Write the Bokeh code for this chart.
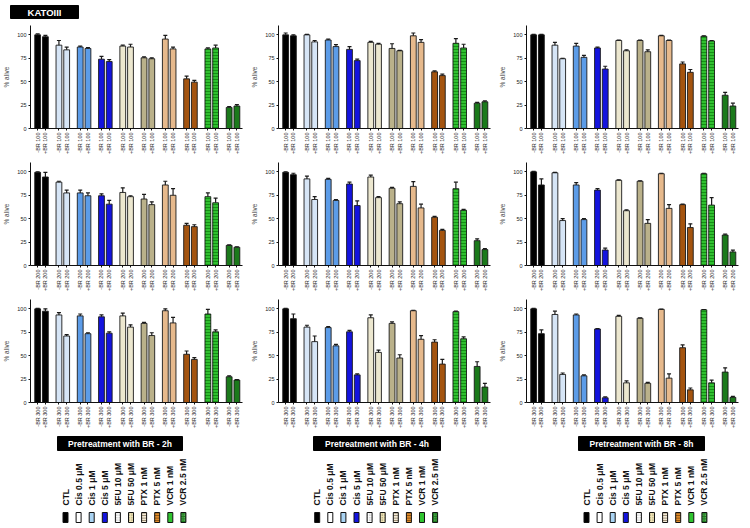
import math
from bokeh.plotting import figure
from bokeh.models import ColumnDataSource, Range1d, FixedTicker, Whisker, TeeHead
from bokeh.layouts import column, row
from bokeh.embed import file_html
from bokeh.resources import INLINE
from bokeh.core.properties import value

# ---------------- data ----------------
categories = ["CTL", "Cis 0.5 \u03bcM", "Cis 1 \u03bcM", "Cis 5 \u03bcM", "5FU 10 \u03bcM",
              "5FU 50 \u03bcM", "PTX 1 nM", "PTX 5 nM", "VCR 1 nM", "VCR 2.5 nM"]
times = ["2h", "4h", "8h"]
doses = ["100", "200", "300"]

br100_2h_minus = [100, 89, 87, 74, 88, 75.5, 95.5, 53, 85, 22.5]
br100_2h_plus = [98, 84, 85.5, 71.5, 87, 74.5, 85, 49.5, 86, 24]
br100_2h_minus_err = [1, 5, 1, 3, 1, 1, 4, 3, 1, 1]
br100_2h_plus_err = [1.5, 3, 1, 2, 3, 1, 2, 2, 3, 1.5]

br100_4h_minus = [100, 100, 94.5, 84.5, 92, 85.5, 99, 60.5, 91, 27]
br100_4h_plus = [99, 92.5, 87.5, 72.5, 90, 83, 92, 56.5, 86, 28.5]
br100_4h_minus_err = [2, 0.5, 1, 3, 1, 5, 3, 1, 5, 1]
br100_4h_plus_err = [1, 1.5, 2, 1.5, 1, 0.5, 3, 1.5, 4, 1]

br100_8h_minus = [100, 89, 88, 86, 94, 94, 99, 69, 98.5, 35.5]
br100_8h_plus = [100, 74.5, 76, 63.5, 83, 82, 94, 60, 93.5, 24]
br100_8h_minus_err = [0.5, 3, 3, 1, 0.5, 0.5, 0.5, 2, 0.5, 3]
br100_8h_plus_err = [0.5, 0.5, 2, 3, 1, 2, 0.5, 3, 0.5, 3]

br200_2h_minus = [99.5, 89, 77.5, 74.5, 78, 71, 86, 43, 73.5, 21.5]
br200_2h_plus = [94.5, 77.5, 74.5, 65.5, 73.5, 65, 75, 41.5, 67, 19.5]
br200_2h_minus_err = [0.5, 1, 3, 2, 5, 5, 4, 2, 4, 0.5]
br200_2h_plus_err = [5, 3, 3, 4, 1, 3, 7, 2, 5, 0.5]

br200_4h_minus = [99.5, 92.5, 92, 87, 94.5, 82.5, 84.5, 51.5, 82, 26.5]
br200_4h_plus = [97, 70.5, 69.5, 64, 72.5, 66, 61.5, 37.5, 59, 17]
br200_4h_minus_err = [0.5, 3, 1, 2, 2, 1, 5, 1, 7, 2]
br200_4h_plus_err = [1.5, 3, 1, 5, 1, 2, 4, 1, 1, 1]

br200_8h_minus = [100, 99, 86, 80.5, 91, 90, 98, 65, 98, 32.5]
br200_8h_plus = [86, 48, 49, 16.5, 58.5, 45, 61, 40.5, 64.5, 14.5]
br200_8h_minus_err = [0.5, 0.5, 2.5, 1.5, 0.5, 0.5, 0.5, 0.5, 0.5, 1]
br200_8h_plus_err = [6.5, 2, 1, 2, 1, 4, 4, 4, 8, 2]

br300_2h_minus = [100, 93.5, 92.5, 91.5, 92.5, 84.5, 98, 51.5, 94.5, 27.5]
br300_2h_plus = [97.5, 71, 73.5, 74, 80.5, 71.5, 85, 46, 75.5, 24]
br300_2h_minus_err = [0.5, 2.5, 2, 2, 3, 1, 2, 3.5, 5, 1]
br300_2h_plus_err = [2.5, 1.5, 1, 1.5, 2.5, 3, 6, 2, 2, 0.5]

br300_4h_minus = [100, 80.5, 80, 75.5, 90.5, 84.5, 98, 64.5, 97, 38.5]
br300_4h_plus = [89.5, 65, 60.5, 29.5, 53.5, 47.5, 67.5, 41, 68, 16.5]
br300_4h_minus_err = [0.5, 2, 1, 1.5, 3, 1.5, 0.5, 2.5, 0.5, 5]
br300_4h_plus_err = [5, 6, 1.5, 1, 2.5, 3.5, 4, 5, 2, 4]

br300_8h_minus = [100, 94, 93.5, 78.5, 92, 90, 99.5, 58.5, 99, 32.5]
br300_8h_plus = [73.5, 30, 28.5, 5, 21, 20.5, 26, 13.5, 21, 5.5]
br300_8h_minus_err = [0.5, 3.5, 1, 0.3, 1, 0.3, 0.3, 3, 0.3, 4.5]
br300_8h_plus_err = [4, 1.5, 1, 1, 2, 1, 4.5, 2, 3, 1]

panels = {
    ("100", "2h"): (br100_2h_minus, br100_2h_plus, br100_2h_minus_err, br100_2h_plus_err),
    ("100", "4h"): (br100_4h_minus, br100_4h_plus, br100_4h_minus_err, br100_4h_plus_err),
    ("100", "8h"): (br100_8h_minus, br100_8h_plus, br100_8h_minus_err, br100_8h_plus_err),
    ("200", "2h"): (br200_2h_minus, br200_2h_plus, br200_2h_minus_err, br200_2h_plus_err),
    ("200", "4h"): (br200_4h_minus, br200_4h_plus, br200_4h_minus_err, br200_4h_plus_err),
    ("200", "8h"): (br200_8h_minus, br200_8h_plus, br200_8h_minus_err, br200_8h_plus_err),
    ("300", "2h"): (br300_2h_minus, br300_2h_plus, br300_2h_minus_err, br300_2h_plus_err),
    ("300", "4h"): (br300_4h_minus, br300_4h_plus, br300_4h_minus_err, br300_4h_plus_err),
    ("300", "8h"): (br300_8h_minus, br300_8h_plus, br300_8h_minus_err, br300_8h_plus_err),
}

# ---------------- styles ----------------
FONT = "Liberation Sans"
bar_colors = ["#000000", "#d6e5f6", "#5c9ce8", "#1414de", "#ece7cf",
              "#bab18a", "#e6b98c", "#a4540f", "#30c030", "#1b7a1b"]
bar_hatch = [" ", " ", " ", " ", " ", " ", " ", " ", "-", " "]
bar_hatch_color = ["#000000"] * 8 + ["#158f15", "#000000"]
leg_colors = ["#000000", "#ffffff", "#a9d3f2", "#1414de", "#ffffff",
              "#efe5b6", "#f2ead8", "#e08a2a", "#2fc42f", "#1b7a1b"]
leg_hatch = [" ", " ", " ", " ", ".", ".", "-", "-", " ", "."]
leg_hatch_color = ["#000000", "#000000", "#000000", "#000000", "#999999",
                   "#8a8060", "#8a7a60", "#7a4a10", "#ffffff", "#9be09b"]
OUT = "#1a1a1a"
PANEL_W = 248
PANEL_H = 137


def make_panel(dose, minus, plus, minus_err, plus_err):
    p = figure(width=PANEL_W, height=PANEL_H, x_range=Range1d(-3.7, 105.9), y_range=Range1d(0, 110),
               output_backend="svg", toolbar_location=None,
               min_border_left=25, min_border_right=6, min_border_top=5, min_border_bottom=28)
    xs, tops, uppers, fills, hatches, hcols, labels = [], [], [], [], [], [], {}
    for i in range(len(categories)):
        for j, (vals, errs, sign) in enumerate(((minus, minus_err, "-"), (plus, plus_err, "+"))):
            x = i * 11 + j * 4
            xs.append(x)
            tops.append(vals[i])
            uppers.append(vals[i] + errs[i])
            fills.append(bar_colors[i])
            hatches.append(bar_hatch[i])
            hcols.append(bar_hatch_color[i])
            labels[x] = sign + "BR " + dose
    src = ColumnDataSource(dict(x=xs, top=tops, upper=uppers, fill=fills, hatch=hatches, hcol=hcols))
    w = Whisker(base="x", lower="top", upper="upper", source=src, line_color=OUT, line_width=1.2,
                lower_head=None, upper_head=TeeHead(size=4, line_color=OUT, line_width=1.2),
                level="annotation")
    p.add_layout(w)
    p.vbar(x="x", top="top", bottom=0, width=3, source=src, fill_color="fill",
           line_color=OUT, line_width=0.9, hatch_pattern="hatch", hatch_color="hcol",
           hatch_scale=3, hatch_weight=1)
    p.xaxis.ticker = FixedTicker(ticks=xs)
    p.xaxis.major_label_overrides = labels
    p.xaxis.major_label_orientation = math.pi / 2
    p.xaxis.major_label_text_font_size = "5.5px"
    p.yaxis.ticker = FixedTicker(ticks=[0, 25, 50, 75, 100])
    p.yaxis.major_label_text_font_size = "5.5px"
    p.yaxis.axis_label = "% alive"
    p.yaxis.axis_label_text_font_size = "6.5px"
    p.yaxis.axis_label_text_font_style = "normal"
    p.yaxis.axis_label_text_font = FONT
    p.yaxis.axis_label_standoff = 4
    p.axis.major_label_text_font = FONT
    p.axis.major_label_text_color = "#222222"
    p.axis.major_label_standoff = 2
    p.axis.minor_tick_line_color = None
    p.axis.major_tick_in = 0
    p.axis.major_tick_out = 2
    p.axis.axis_line_color = "#111111"
    p.axis.major_tick_line_color = "#111111"
    p.grid.visible = False
    p.outline_line_color = None
    return p


def blank_fig(w, h):
    p = figure(width=w, height=h, x_range=Range1d(0, w), y_range=Range1d(0, h),
               output_backend="svg", toolbar_location=None, x_axis_type=None, y_axis_type=None,
               min_border=0)
    p.grid.visible = False
    p.outline_line_color = None
    return p


# title
title_fig = blank_fig(3 * PANEL_W, 20)
title_fig.quad(left=[10], right=[78], bottom=[2], top=[15], fill_color="black", line_color="black")
title_fig.text(x=[44], y=[8.5], text=["KATOIII"], text_color="white", text_font=value(FONT),
               text_font_style="bold", text_font_size="9.5px", text_align="center",
               text_baseline="middle")

rows = []
for dose in doses:
    rows.append(row(*[make_panel(dose, *panels[(dose, t)]) for t in times]))

LEG_H = 96
box_pos = [(57, 182), (65, 192), (82, 208)]
item_start = [65, 68.7, 90]
legs = []
for k, t in enumerate(times):
    lp = blank_fig(PANEL_W, LEG_H)
    l0, r0 = box_pos[k]
    lp.quad(left=[l0], right=[r0], bottom=[77], top=[91], fill_color="black", line_color="black")
    lp.text(x=[(l0 + r0) / 2], y=[84], text=["Pretreatment with BR - " + t], text_color="white",
            text_font=value(FONT), text_font_style="bold", text_font_size="8.5px",
            text_align="center", text_baseline="middle")
    ix = [item_start[k] + 13.1 * i for i in range(len(categories))]
    lsrc = ColumnDataSource(dict(x=ix, l=[v - 2.5 for v in ix], r=[v + 2.5 for v in ix],
                                 fill=leg_colors, hatch=leg_hatch, hcol=leg_hatch_color,
                                 name=categories))
    lp.quad(left="l", right="r", bottom=5, top=15, source=lsrc, fill_color="fill",
            line_color="#111111", line_width=1, hatch_pattern="hatch", hatch_color="hcol",
            hatch_scale=2.5, hatch_weight=1)
    lp.text(x="x", y=22, text="name", source=lsrc, angle=math.pi / 2, text_font=value(FONT),
            text_font_style="bold", text_font_size="8.5px", text_align="left",
            text_baseline="middle", text_color="#111111")
    legs.append(lp)

layout = column(title_fig, *rows, row(*legs))

with open("out.html", "w") as f:
    f.write(file_html(layout, INLINE))
